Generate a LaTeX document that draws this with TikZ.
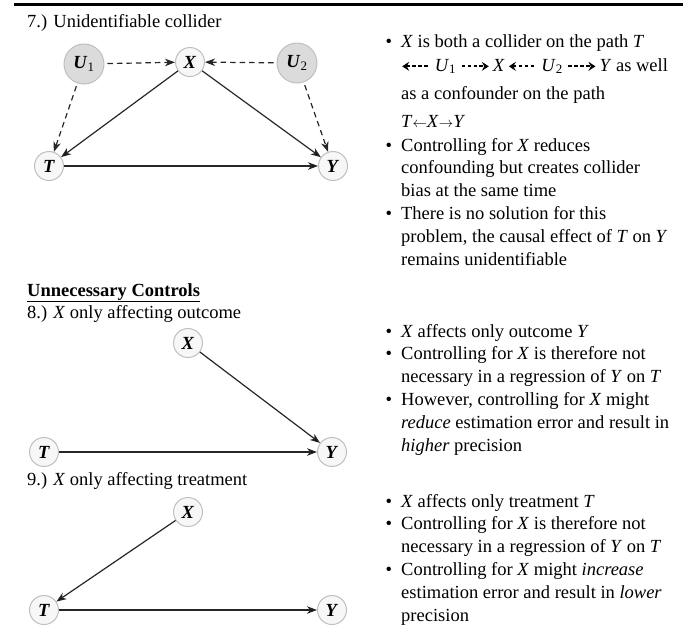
\documentclass[tikz,border=0pt]{standalone}
\usepackage{fontspec}
\setmainfont{Liberation Serif}
\usepackage{tikz}
\usetikzlibrary{arrows.meta}

\newcommand{\dashl}{\tikz[baseline=-0.55ex]\draw[line width=2pt,dash pattern=on 3.5pt off 2.4pt,{Stealth[length=7pt,width=9pt,inset=2.5pt]}-] (0pt,0pt) -- (27pt,0pt);}
\newcommand{\dashr}{\tikz[baseline=-0.55ex]\draw[line width=2pt,dash pattern=on 3.5pt off 2.4pt,-{Stealth[length=7pt,width=9pt,inset=2.5pt]}] (0pt,0pt) -- (27pt,0pt);}
\newcommand{\bul}{\llap{\textbullet\hspace{9pt}}}
\newcommand{\sla}{{\fontsize{15}{15}\selectfont$\leftarrow$}}
\newcommand{\sra}{{\fontsize{15}{15}\selectfont$\rightarrow$}}

\begin{document}
\begin{tikzpicture}[x=1pt,y=-1pt]
\tikzstyle{every node}=[font=\fontsize{18.5}{22.6}\selectfont]
\tikzstyle{txt}=[anchor=base west,inner sep=0pt]
\tikzstyle{obs}=[circle,draw=gray!50,fill=gray!6,line width=1pt,minimum size=29pt,inner sep=0pt]
\tikzstyle{latent}=[obs,fill=gray!28,minimum size=40pt]
\tikzstyle{arr}=[-{Stealth[length=10pt,width=7.5pt,inset=3pt]},line width=1.2pt,draw=black!85]
\tikzstyle{dsh}=[arr,dash pattern=on 5.5pt off 4pt,shorten <=3pt]
\def \tx {401}
\def \dy {22.8}
\useasboundingbox (0,0) rectangle (696,633);
\draw[line width=3pt] (14,4) -- (683,4);
% headings
\path
  (27, 27) node [txt] (h7)  {7.) Unidentifiable collider}
  (27,296) node [txt] (unc) {\textbf{\underline{Unnecessary Controls}}}
  (27,318) node [txt] (h8)  {8.) \textit{X} only affecting outcome}
  (27,485) node [txt] (h9)  {9.) \textit{X} only affecting treatment}
;
% 7.)
\path
  (\tx, 47) node [txt] (a1) {\bul\textit{X} is both a collider on the path \textit{T}}
  (\tx, 71) node [txt] (a2) {\dashl\ \textit{U}\textsubscript{1} \dashr\,\textit{X}\,\dashl\ \textit{U}\textsubscript{2} \dashr\,\textit{Y} as well}
  (\tx, 99) node [txt] (a3) {as a confounder on the path}
  (\tx,127) node [txt] (a4) {\textit{T}\sla\textit{X}\sra\textit{Y}}
  (\tx,151) node [txt] (b1) {\bul Controlling for \textit{X} reduces}
++(0,\dy)   node [txt] (b2) {confounding but creates collider}
++(0,\dy)   node [txt] (b3) {bias at the same time}
++(0,\dy)   node [txt] (c1) {\bul There is no solution for this}
++(0,\dy)   node [txt] (c2) {problem, the causal effect of \textit{T} on \textit{Y}}
++(0,\dy)   node [txt] (c3) {remains unidentifiable}
;
% 8.)
\path
  (\tx,337) node [txt] (d1) {\bul\textit{X} affects only outcome \textit{Y}}
++(0,\dy)   node [txt] (e1) {\bul Controlling for \textit{X} is therefore not}
++(0,\dy)   node [txt] (e2) {necessary in a regression of \textit{Y} on \textit{T}}
++(0,\dy)   node [txt] (f1) {\bul However, controlling for \textit{X} might}
++(0,\dy)   node [txt] (f2) {\textit{reduce} estimation error and result in}
++(0,\dy)   node [txt] (f3) {\textit{higher} precision}
;
% 9.)
\path
  (\tx,507) node [txt] (g1) {\bul\textit{X} affects only treatment \textit{T}}
++(0,\dy)   node [txt] (k1) {\bul Controlling for \textit{X} is therefore not}
++(0,\dy)   node [txt] (k2) {necessary in a regression of \textit{Y} on \textit{T}}
++(0,\dy)   node [txt] (m1) {\bul Controlling for \textit{X} might \textit{increase}}
++(0,\dy)   node [txt] (m2) {estimation error and result in \textit{lower}}
++(0,\dy)   node [txt] (m3) {precision}
;
% graphs
\path
  ( 84, 64) node [latent] (u1) {\textit{\textbf{U}}\textsubscript{1}}
  (190, 62) node [obs]    (x7) {\textit{\textbf{X}}}
  (297, 63) node [latent] (u2) {\textit{\textbf{U}}\textsubscript{2}}
  ( 49,166) node [obs]    (t7) {\textit{\textbf{T}}}
  (333,166) node [obs]    (y7) {\textit{\textbf{Y}}}
  (188,343) node [obs]    (x8) {\textit{\textbf{X}}}
  ( 44,452) node [obs]    (t8) {\textit{\textbf{T}}}
  (332,452) node [obs]    (y8) {\textit{\textbf{Y}}}
  (188,512) node [obs]    (x9) {\textit{\textbf{X}}}
  ( 44,610) node [obs]    (t9) {\textit{\textbf{T}}}
  (332,610) node [obs]    (y9) {\textit{\textbf{Y}}}
;
\path[arr]
(u1) edge [dsh] (x7)
(u2) edge [dsh] (x7)
(u1) edge [dsh] (t7)
(u2) edge [dsh] (y7)
(x7) edge (t7)
(x7) edge (y7)
(t7) edge (y7)

(x8) edge (y8)
(t8) edge (y8)

(x9) edge (t9)
(t9) edge (y9)
;
\end{tikzpicture}
\end{document}
